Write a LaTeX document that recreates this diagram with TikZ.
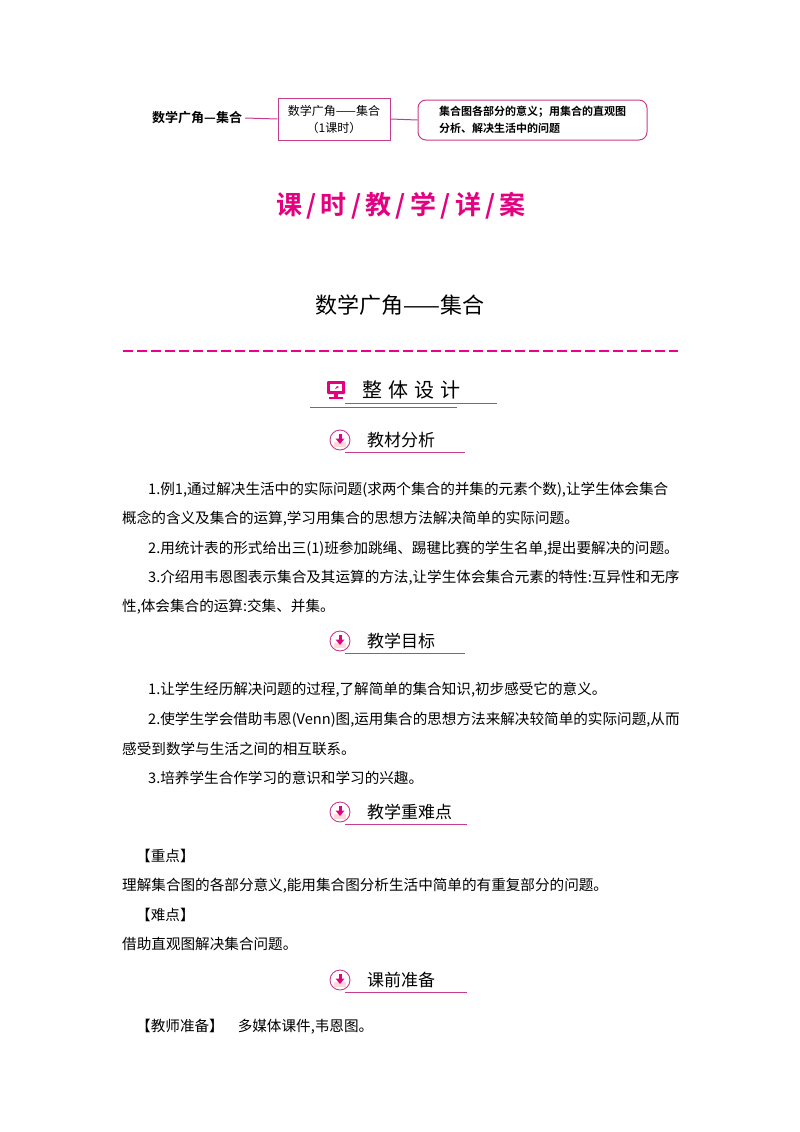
\documentclass[tikz,border=0pt]{standalone}
\usepackage{fontspec}
\setmainfont{Noto Sans CJK SC}
\newfontfamily\cjkb{Noto Sans CJK SC Bold}
\definecolor{mag}{RGB}{228,0,127}
\definecolor{lmag}{RGB}{200,60,140}
\begin{document}
\begin{tikzpicture}[x=1pt,y=-1pt,
  body/.style={anchor=west,inner sep=0,font=\fontsize{14.6}{16}\selectfont},
  head/.style={anchor=west,inner sep=0,font=\fontsize{17}{20}\selectfont},
  uline/.style={draw=lmag,line width=1pt}]
\useasboundingbox (0,0) rectangle (800,1132);
% top bar
\node[anchor=west,inner sep=0,font=\fontsize{13}{15}\cjkb] (t1) at (152,118) {数学广角—集合};
\node[draw=lmag,line width=1pt,minimum width=112,minimum height=42,inner sep=0,align=center,font=\fontsize{12}{17}\selectfont] (t2) at (334,119) {数学广角——集合\\（1课时）};
\node[draw=lmag,line width=1pt,rounded corners=8pt,minimum width=229,minimum height=40,inner sep=0,align=left,font=\fontsize{11}{17}\cjkb] (t3) at (532.5,120) {集合图各部分的意义；用集合的直观图\\分析、解决生活中的问题};
\draw[lmag,line width=1pt] (t1.east)++(3,0) -- (t2.west);
\draw[lmag,line width=1pt] (t2.east) -- (t3.west);
% title
\node[inner sep=0,text=mag,font=\fontsize{26}{30}\cjkb] (title) at (401,206) {课\,/\,时\,/\,教\,/\,学\,/\,详\,/\,案};
\node[inner sep=0,font=\fontsize{22}{26}\selectfont] (sub) at (400,305) {数学广角——集合};
\coordinate (dl) at (123,351); \coordinate (dr) at (678,351);
\draw[magenta,line width=1.6pt,dash pattern=on 10pt off 4pt] (dl) -- (dr);
% whole design header
\node[inner sep=0] (mon) at (336,390) {\tikz[x=1pt,y=1pt]{\fill[mag,rounded corners=1pt] (-9,-5) rectangle (9,8);\fill[white] (-6,-2) rectangle (6,5);\fill[mag] (-1,0)--(3,2)--(1,3)--cycle;\fill[mag] (-2,-5) rectangle (2,-8);\fill[mag] (-7,-8) rectangle (7,-10);}};
\node[anchor=west,inner sep=0,font=\fontsize{20}{24}\selectfont] (zt) at (362,390) {整\hspace{6pt}体\hspace{6pt}设\hspace{6pt}计};
\coordinate (z1a) at (345,403); \coordinate (z1b) at (497,403);
\coordinate (z2a) at (310,407); \coordinate (z2b) at (457,407);
\draw[uline] (z1a) -- (z1b); \draw[uline] (z2a) -- (z2b);
% section heads
\foreach \y/\t/\e [count=\i] in {440/教材分析/465, 641/教学目标/465, 812/教学重难点/467, 980/课前准备/467}{
  \node[inner sep=0] (ic\i) at (340,\y) {\tikz[x=1pt,y=1pt]{\draw[lmag,line width=0.9pt,fill=white] (0,0) circle (10);\fill[pink!60] (-6,-7) rectangle (6,-2);\fill[mag] (-1.5,6) rectangle (1.5,1);\fill[mag] (-4.5,1.5)--(4.5,1.5)--(0,-4)--cycle;}};
  \node[head] (h\i) at (367,\y) {\t};
  \draw[uline] (345,\y+12) -- (\e,\y+12);
}
% body
\node[body] (b1) at (148,490) {1.例1,通过解决生活中的实际问题(求两个集合的并集的元素个数),让学生体会集合};
\node[body] (b2) at (122,519) {概念的含义及集合的运算,学习用集合的思想方法解决简单的实际问题。};
\node[body] (b3) at (148,549) {2.用统计表的形式给出三(1)班参加跳绳、踢毽比赛的学生名单,提出要解决的问题。};
\node[body] (b4) at (148,578) {3.介绍用韦恩图表示集合及其运算的方法,让学生体会集合元素的特性:互异性和无序};
\node[body] (b5) at (122,607) {性,体会集合的运算:交集、并集。};
\node[body] (c1) at (148,690) {1.让学生经历解决问题的过程,了解简单的集合知识,初步感受它的意义。};
\node[body] (c2) at (148,720) {2.使学生学会借助韦恩(Venn)图,运用集合的思想方法来解决较简单的实际问题,从而};
\node[body] (c3) at (122,749) {感受到数学与生活之间的相互联系。};
\node[body] (c4) at (148,778) {3.培养学生合作学习的意识和学习的兴趣。};
\node[body] (d1) at (136,856) {【重点】};
\node[body] (d2) at (122,886) {理解集合图的各部分意义,能用集合图分析生活中简单的有重复部分的问题。};
\node[body] (d3) at (136,915) {【难点】};
\node[body] (d4) at (122,944) {借助直观图解决集合问题。};
\node[body] (e1) at (136,1027) {【教师准备】\hspace{14pt}多媒体课件,韦恩图。};
\end{tikzpicture}
\end{document}
